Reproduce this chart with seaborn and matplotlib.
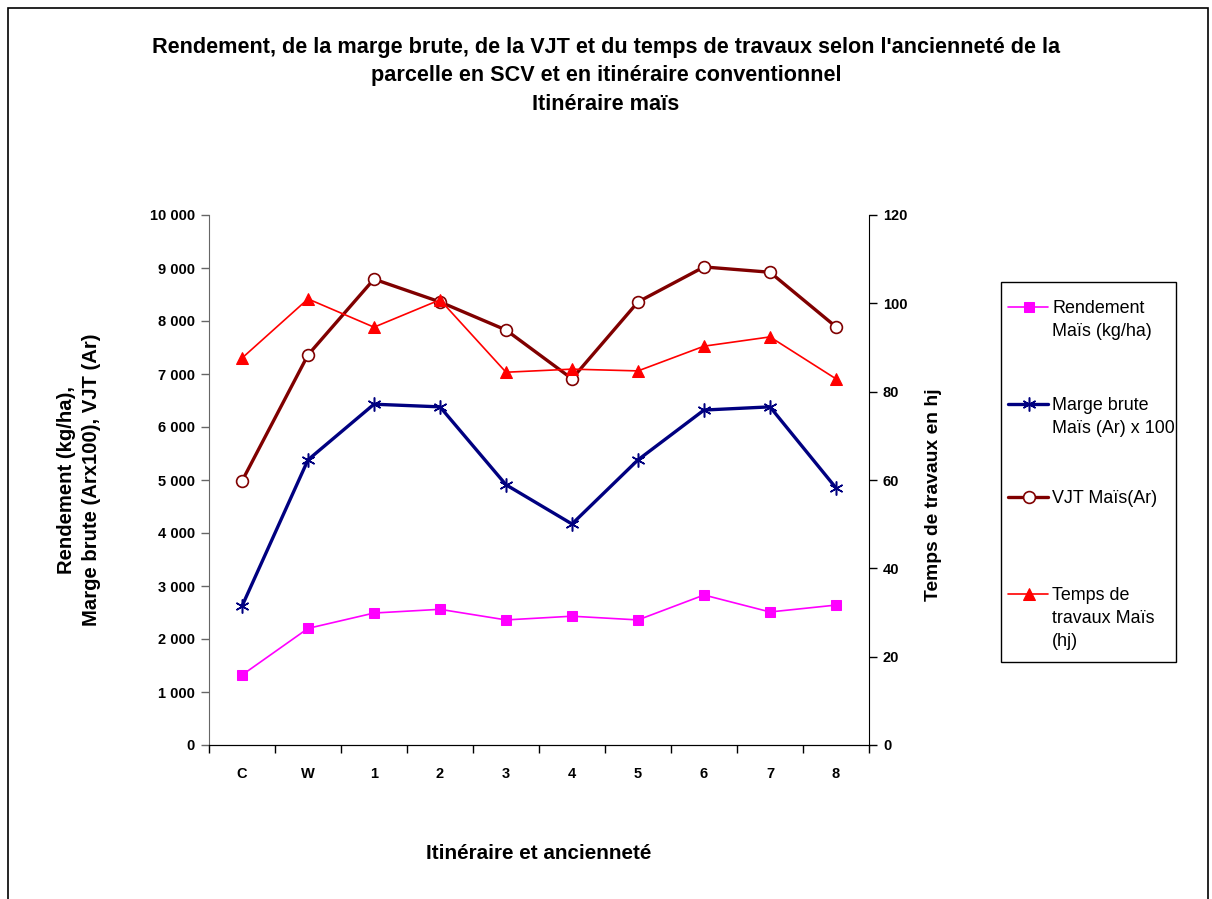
import matplotlib
matplotlib.use('Agg')
import matplotlib.pyplot as plt
from matplotlib.lines import Line2D
from matplotlib.patches import Rectangle
from matplotlib.ticker import FixedLocator, FuncFormatter
import seaborn as sns
import pandas as pd

categories = ['C', 'W', '1', '2', '3', '4', '5', '6', '7', '8']
rendement = [1320, 2200, 2490, 2560, 2360, 2430, 2360, 2830, 2510, 2640]
marge_x100 = [2620, 5380, 6430, 6380, 4910, 4170, 5380, 6320, 6380, 4850]
vjt = [4980, 7360, 8790, 8360, 7830, 6910, 8360, 9020, 8920, 7890]
temps = [87.6, 101, 94.6, 100.8, 84.4, 85.1, 84.7, 90.3, 92.4, 82.9]

labels = ['Rendement\nMaïs (kg/ha)', 'Marge brute\nMaïs (Ar) x 100',
          'VJT Maïs(Ar)', 'Temps de\ntravaux Maïs\n(hj)']

sns.set_style('ticks')
plt.rcParams['font.family'] = ['Liberation Sans', 'DejaVu Sans']
plt.rcParams.update({'text.color': 'black', 'axes.labelcolor': 'black',
                     'xtick.color': 'black', 'ytick.color': 'black'})

W, H = 1212, 899

df = pd.DataFrame({'pos': range(len(categories)), 'rendement': rendement,
                   'marge': marge_x100, 'vjt': vjt, 'temps': temps})

fig = plt.figure(figsize=(W / 100, H / 100), dpi=100)
ax = fig.add_axes([209 / W, 1 - 745 / H, 660 / W, 530 / H])
ax2 = ax.twinx()

sns.lineplot(data=df, x='pos', y='rendement', ax=ax, color='#FF00FF', lw=1.2,
             marker='s', markersize=6.5, markeredgecolor='#FF00FF', legend=False)
sns.lineplot(data=df, x='pos', y='marge', ax=ax, color='#000080', lw=2.4,
             marker=(6, 2, 0), markersize=10, markeredgewidth=1.1,
             markeredgecolor='#000080', legend=False)
sns.lineplot(data=df, x='pos', y='vjt', ax=ax, color='#800000', lw=2.4,
             marker='o', markersize=8.5, markerfacecolor='white', markeredgewidth=1.2,
             markeredgecolor='#800000', legend=False)
sns.lineplot(data=df, x='pos', y='temps', ax=ax2, color='#FF0000', lw=1.2,
             marker='^', markersize=9, markeredgecolor='#FF0000', legend=False)

ax.set_xlim(-0.5, 9.5)
ax.set_ylim(0, 10000)
ax2.set_ylim(0, 120)
ax.set_yticks(range(0, 10001, 1000))
ax.yaxis.set_major_formatter(FuncFormatter(lambda v, p: f'{int(v):,}'.replace(',', ' ')))
ax2.set_yticks(range(0, 121, 20))

ax.set_xticks(range(len(categories)))
ax.set_xticklabels(categories)
ax.xaxis.set_minor_locator(FixedLocator([i - 0.5 for i in range(len(categories) + 1)]))
ax.tick_params(axis='x', which='major', length=0, pad=16)
ax.tick_params(axis='x', which='minor', length=6, width=1, color='black')
ax.tick_params(axis='y', length=6, width=1, color='#666666', labelcolor='black', pad=4)
ax2.tick_params(axis='y', length=6, width=1, color='black', pad=4)

for a in (ax, ax2):
    for lab in a.get_xticklabels() + a.get_yticklabels():
        lab.set_fontweight('bold')
        lab.set_fontsize(10.5)
    a.spines['top'].set_visible(False)
    a.spines['bottom'].set_color('black')
ax.spines['right'].set_visible(False)
ax.spines['left'].set_color('#666666')
ax2.spines['left'].set_visible(False)
ax2.spines['right'].set_color('black')

ax.set_xlabel('Itinéraire et ancienneté', fontsize=14.9, fontweight='bold', labelpad=45)
ax.set_ylabel('Rendement (kg/ha),\nMarge brute (Arx100), VJT (Ar)', fontsize=14.6,
              fontweight='bold', labelpad=35, linespacing=1.42)
ax2.set_ylabel('Temps de travaux en hj', fontsize=13.9, fontweight='bold')
ax2.yaxis.set_label_coords((925 - 209) / 660, (745 - 495) / 530)

fig.text(0.5, 1 - 76 / H,
         "Rendement, de la marge brute, de la VJT et du temps de travaux selon l'ancienneté de la\n"
         "parcelle en SCV et en itinéraire conventionnel\nItinéraire maïs",
         ha='center', va='center', fontsize=15.6, fontweight='bold', linespacing=1.48)

# outer chart border
fig.patches.append(Rectangle((8 / W, -0.02), 1200 / W, 1.02 - 8 / H,
                             transform=fig.transFigure, fill=False, lw=1.2, ec='black'))
# legend box
fig.patches.append(Rectangle((1001 / W, 1 - 662 / H), 175 / W, 380 / H,
                             transform=fig.transFigure, fill=False, lw=1, ec='black'))

# legend entries: handle aligned with first line of label (Excel style)
handles = ax.get_lines()[:3] + ax2.get_lines()[:1]
entry_y = [307, 404, 497, 594]
for h, lab, ypx in zip(handles, labels, entry_y):
    yf = 1 - ypx / H
    seg = Line2D([1008 / W, 1048 / W], [yf, yf], transform=fig.transFigure,
                 color=h.get_color(), lw=h.get_linewidth())
    mk = Line2D([1029 / W], [yf], transform=fig.transFigure, linestyle='none',
                marker=h.get_marker(), markersize=h.get_markersize(),
                markerfacecolor=h.get_markerfacecolor(),
                markeredgecolor=h.get_markeredgecolor(),
                markeredgewidth=h.get_markeredgewidth())
    fig.add_artist(seg)
    fig.add_artist(mk)
    fig.text(1052 / W, yf + 7 / H, lab, ha='left', va='top', fontsize=12.9,
             linespacing=1.45)

fig.savefig('out.png', dpi=100)
